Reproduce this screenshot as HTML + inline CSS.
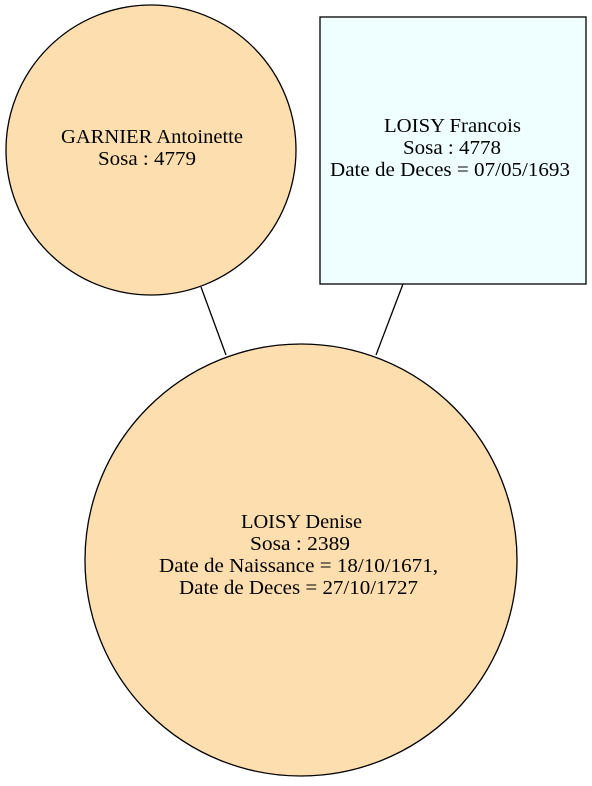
<!DOCTYPE html>
<html><head><style>body{margin:0;background:#fff}</style></head><body>
<svg width="592" height="781" xmlns="http://www.w3.org/2000/svg" font-family="Liberation Serif, serif" font-size="19.5" text-anchor="middle">
<rect width="592" height="781" fill="#fff"/>
<line x1="201" y1="287" x2="226" y2="355" stroke="#000" stroke-width="1.3"/>
<line x1="403" y1="284" x2="376" y2="355" stroke="#000" stroke-width="1.3"/>
<circle cx="151" cy="150" r="145" fill="#fddeaf" stroke="#000" stroke-width="1.3"/>
<text x="152" y="143" textLength="182" lengthAdjust="spacingAndGlyphs">GARNIER Antoinette</text>
<text x="147" y="165" textLength="98" lengthAdjust="spacingAndGlyphs">Sosa : 4779</text>
<rect x="320" y="17" width="266" height="267" fill="#efffff" stroke="#000" stroke-width="1.3"/>
<text x="452.5" y="132" textLength="137" lengthAdjust="spacingAndGlyphs">LOISY Francois</text>
<text x="452" y="154" textLength="98" lengthAdjust="spacingAndGlyphs">Sosa : 4778</text>
<text x="450" y="176" textLength="240" lengthAdjust="spacingAndGlyphs">Date de Deces = 07/05/1693</text>
<circle cx="301" cy="560" r="216" fill="#fddeaf" stroke="#000" stroke-width="1.3"/>
<text x="301.5" y="528" textLength="121" lengthAdjust="spacingAndGlyphs">LOISY Denise</text>
<text x="300" y="550" textLength="100" lengthAdjust="spacingAndGlyphs">Sosa : 2389</text>
<text x="298.5" y="572" textLength="279" lengthAdjust="spacingAndGlyphs">Date de Naissance = 18/10/1671,</text>
<text x="298.5" y="594" textLength="239" lengthAdjust="spacingAndGlyphs">Date de Deces = 27/10/1727</text>
</svg>
</body></html>
